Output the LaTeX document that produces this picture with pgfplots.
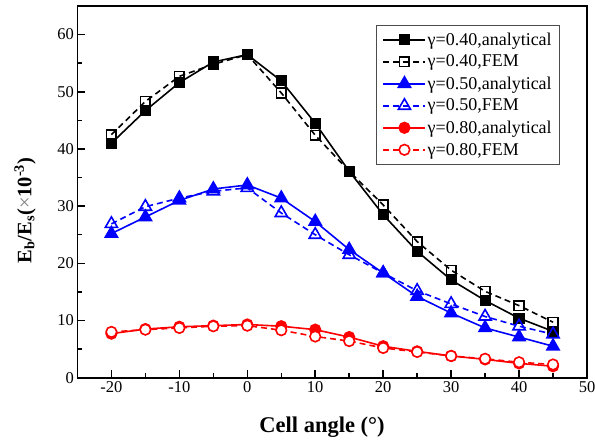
\documentclass[border=0pt]{standalone}
\usepackage{pgfplots}
\pgfplotsset{compat=1.18}
\usepackage{fontspec}
\setmainfont{Liberation Serif}
\begin{document}
\begin{tikzpicture}
\begin{axis}[
  scale only axis, width=510pt, height=372pt,
  xmin=-25, xmax=50, ymin=0, ymax=65,
  xtick={-20,-10,...,50}, ytick={0,10,...,60},
  minor x tick num=1, minor y tick num=1,
  tick align=inside, xtick pos=left, ytick pos=left,
  major tick length=8pt, minor tick length=4.5pt,
  every tick/.style={black, line width=1.5pt},
  axis line style={line width=1.8pt},
  tick label style={font=\fontsize{16.5}{16.5}\selectfont},
  /pgf/number format/assume math mode=true,
  xlabel={\textbf{Cell angle (°)}},
  xlabel style={font=\fontsize{22.5}{22.5}\selectfont, at={(axis description cs:0.48,-0.132)}, anchor=center},
  ylabel={\textbf{E\textsubscript{b}/E\textsubscript{s}(}\textcolor{gray}{×}\textbf{10\textsuperscript{-3})}},
  ylabel style={font=\fontsize{20.5}{20.5}\selectfont, at={(axis description cs:-0.103,0.45)}, anchor=center},
  legend cell align=left,
  legend style={at={(0.946,0.949)}, anchor=north east, draw=black!70, line width=0.6pt,
    font=\fontsize{18}{19}\selectfont, inner xsep=6pt, inner ysep=6pt, row sep=5.3pt,
    nodes={inner xsep=1.5pt, inner ysep=1.5pt}},
  legend image code/.code={
    \draw[mark repeat=2,mark phase=2,#1] plot coordinates {(0pt,0pt) (21pt,0pt) (42pt,0pt)};
  },
]
\addplot[black, line width=1.6pt, solid, mark=square*, mark size=4.8pt] coordinates {
(-20,41.0) (-15,46.7) (-10,51.6) (-5,55.2) (0,56.5) (5,51.9) (10,44.5) (15,36.1) (20,28.5) (25,22.1) (30,17.1) (35,13.5) (40,10.4) (45,8.1)};
\addlegendentry{γ=0.40,analytical}
\addplot[black, line width=1.6pt, dash pattern=on 6pt off 4pt, mark=square, mark size=4.8pt, mark options={solid, fill=white}] coordinates {
(-20,42.5) (-15,48.3) (-10,52.7) (-5,54.8) (0,56.5) (5,49.8) (10,42.4) (15,36.1) (20,30.2) (25,23.8) (30,18.8) (35,15.1) (40,12.6) (45,9.7)};
\addlegendentry{γ=0.40,FEM}
\addplot[blue, line width=1.6pt, solid, mark=triangle*, mark size=7pt] coordinates {
(-20,25.2) (-15,28.1) (-10,31.0) (-5,33.0) (0,33.7) (5,31.4) (10,27.3) (15,22.4) (20,18.3) (25,14.2) (30,11.3) (35,8.7) (40,7.1) (45,5.5)};
\addlegendentry{γ=0.50,analytical}
\addplot[blue, line width=1.6pt, dash pattern=on 6pt off 4pt, mark=triangle, mark size=7pt, mark options={solid, fill=white}] coordinates {
(-20,26.9) (-15,29.9) (-10,31.4) (-5,32.6) (0,33.2) (5,28.8) (10,25.0) (15,21.5) (20,18.3) (25,15.2) (30,12.9) (35,10.7) (40,9.0) (45,7.6)};
\addlegendentry{γ=0.50,FEM}
\addplot[red, line width=1.6pt, solid, mark=*, mark size=5.3pt] coordinates {
(-20,7.7) (-15,8.5) (-10,8.9) (-5,9.1) (0,9.3) (5,9.0) (10,8.4) (15,7.1) (20,5.5) (25,4.6) (30,3.8) (35,3.2) (40,2.5) (45,2.0)};
\addlegendentry{γ=0.80,analytical}
\addplot[red, line width=1.6pt, dash pattern=on 6pt off 4pt, mark=*, mark size=5.3pt, mark options={solid, fill=white}] coordinates {
(-20,8.0) (-15,8.4) (-10,8.7) (-5,9.0) (0,9.1) (5,8.3) (10,7.2) (15,6.4) (20,5.2) (25,4.5) (30,3.8) (35,3.3) (40,2.7) (45,2.3)};
\addlegendentry{γ=0.80,FEM}
\end{axis}
\pgfresetboundingbox
\path[use as bounding box] ([shift={(-77.5pt,-65pt)}]current axis.south west) rectangle ([shift={(8pt,6pt)}]current axis.north east);
\end{tikzpicture}
\end{document}
